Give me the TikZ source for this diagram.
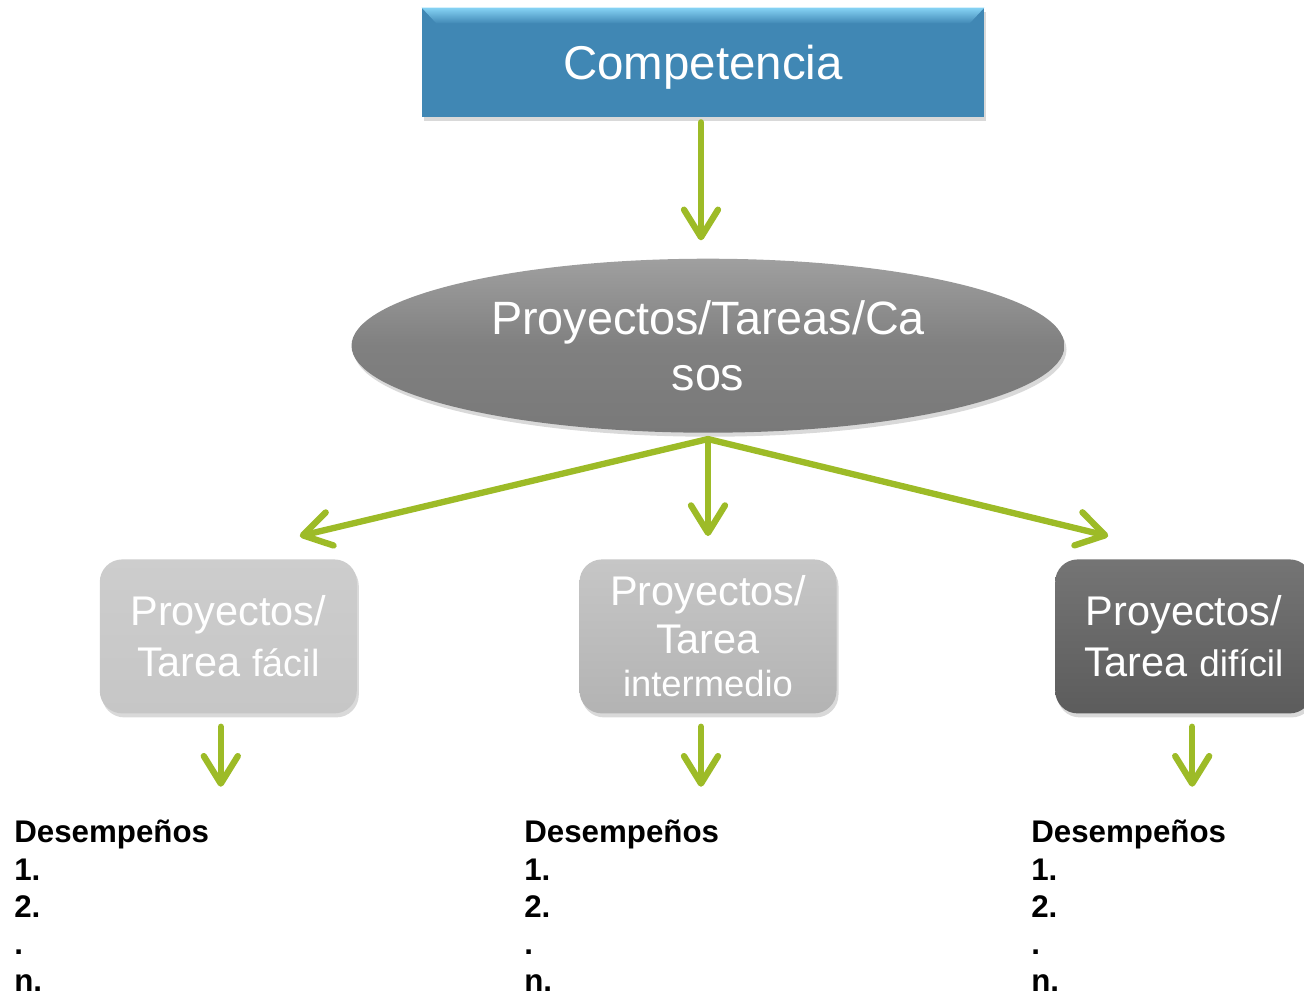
\documentclass[tikz,border=0pt]{standalone}
\usepackage{fontspec}
\setmainfont{Liberation Sans}
\usetikzlibrary{shapes.geometric,positioning,arrows.meta,shadows}

\definecolor{verde}{HTML}{9DBB27}
\definecolor{azul}{HTML}{4087B4}
\definecolor{azulclaro}{HTML}{86D3F4}
\definecolor{grisprox}{HTML}{808080}
\definecolor{grisfacil}{HTML}{C6C6C6}
\definecolor{grisinter}{HTML}{B3B3B3}
\definecolor{grisdificil}{HTML}{5C5C5C}

\begin{document}
\begin{tikzpicture}[every node/.style={align=center},
		flecha/.style={draw=verde, line width=3.6pt, line cap=round, -{Straight Barb[length=0.55cm,width=0.68cm,round]}},
		sombra/.style={drop shadow={opacity=0.3, shadow xshift=0.04cm, shadow yshift=-0.08cm}},
		caja/.style={rounded corners=0.45cm, minimum width=5.14cm, minimum height=3.08cm, text=white, inner sep=2pt, sombra},
		lista/.style={anchor=north west, align=left, inner sep=0pt, font=\bfseries\fontsize{17.8}{21.2}\selectfont}]
			\useasboundingbox (0,0) rectangle (26.08,-20);
			% niveles
			\node [rectangle, fill=azul, minimum width=11.24cm, minimum height=2.18cm, text=white, text depth=0pt, font=\fontsize{27}{32}\selectfont, sombra] (comp) at (14.06,-1.25) {Competencia};
			\shade [top color=azulclaro, bottom color=azul] (comp.north west) -- (comp.north east) -- ([shift={(-0.3,-0.32)}]comp.north east) -- ([shift={(0.3,-0.32)}]comp.north west) -- cycle;
			\node [ellipse, top color=gray!75, bottom color=gray!95!black, middle color=grisprox, minimum width=14.26cm, minimum height=3.48cm, inner sep=0pt, text=white, font=\fontsize{26.6}{32}\selectfont, below=2.82cm of comp, xshift=0.1cm, sombra] (proy) {Proyectos/Tareas/Ca\\sos};
			\node [caja, top color=grisinter!75!white, bottom color=grisinter, font=\fontsize{23.6}{27}\selectfont, below=2.52cm of proy] (inter) {Proyectos/\\Tarea\\[-0.08cm]{\fontsize{20.7}{24}\selectfont intermedio}};
			\node [caja, top color=grisfacil!88!white, bottom color=grisfacil, font=\fontsize{23.6}{29}\selectfont, left=4.44cm of inter] (facil) {Proyectos/\\Tarea {\fontsize{21.5}{29}\selectfont fácil}};
			\node [caja, top color=grisdificil!85!white, bottom color=grisdificil, font=\fontsize{23.6}{29}\selectfont, right=4.36cm of inter] (dificil) {Proyectos/\\Tarea {\fontsize{21}{29}\selectfont difícil}};
			% puntos de las flechas
			\coordinate (raiz) at ([yshift=-0.12cm]proy.south);
			\coordinate (af) at ([xshift=1.43cm, yshift=0.46cm]facil.north);
			\coordinate (ai) at ([yshift=0.46cm]inter.north);
			\coordinate (ad) at ([xshift=-1.51cm, yshift=0.46cm]dificil.north);
			\coordinate (bf) at ([xshift=-0.15cm, yshift=-0.26cm]facil.south);
			\coordinate (bi) at ([xshift=-0.14cm, yshift=-0.26cm]inter.south);
			\coordinate (bd) at ([xshift=0.17cm, yshift=-0.26cm]dificil.south);
			\draw [flecha, shorten <=0.1cm, shorten >=0.36cm] ([xshift=-0.04cm]comp.south) -- ([xshift=-0.04cm]comp.south |- proy.north);
			\draw [flecha] (raiz) -- (af);
			\draw [flecha] (raiz) -- (ai);
			\draw [flecha] (raiz) -- (ad);
			\draw [flecha] (bf) -- ++(0,-1.2);
			\draw [flecha] (bi) -- ++(0,-1.2);
			\draw [flecha] (bd) -- ++(0,-1.2);
			% desempeños
			\node [lista] (d1) at (0.28,-16.4) {Desempeños\\1.\\2.\\.\\n.};
			\node [lista] (d2) at (10.48,-16.4) {Desempeños\\1.\\2.\\.\\n.};
			\node [lista] (d3) at (20.62,-16.4) {Desempeños\\1.\\2.\\.\\n.};
		\end{tikzpicture}
\end{document}
